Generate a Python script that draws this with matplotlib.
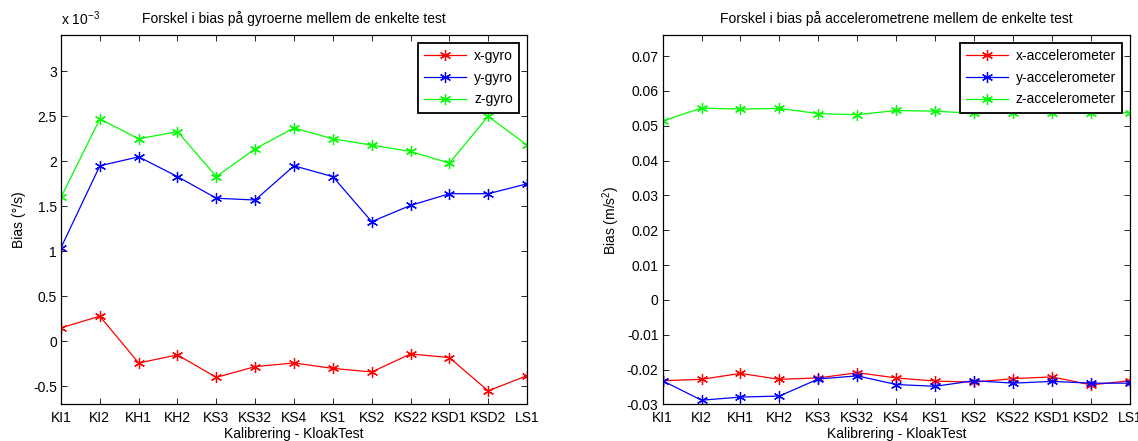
import matplotlib
matplotlib.use("Agg")
import matplotlib.pyplot as plt
import numpy as np

plt.rcParams['font.family'] = ['Liberation Sans', 'DejaVu Sans']
plt.rcParams['axes.unicode_minus'] = False
plt.rcParams['mathtext.fontset'] = 'custom'
plt.rcParams['mathtext.rm'] = 'Liberation Sans'
plt.rcParams['mathtext.it'] = 'Liberation Sans'

tests = ['KI1', 'KI2', 'KH1', 'KH2', 'KS3', 'KS32', 'KS4', 'KS1', 'KS2',
         'KS22', 'KSD1', 'KSD2', 'LS1']

# gyro bias in units of 1e-3 deg/s
gyro_x = [0.15, 0.28, -0.24, -0.15, -0.40, -0.28, -0.24, -0.30, -0.34,
          -0.14, -0.18, -0.55, -0.38]
gyro_y = [1.04, 1.95, 2.05, 1.83, 1.59, 1.57, 1.95, 1.83, 1.33,
          1.51, 1.64, 1.64, 1.75]
gyro_z = [1.60, 2.47, 2.25, 2.33, 1.83, 2.14, 2.37, 2.25, 2.18,
          2.11, 1.98, 2.50, 2.18]

# accelerometer bias in m/s^2
acc_x = [-0.0232, -0.0228, -0.0211, -0.0228, -0.0224, -0.0209, -0.0224,
         -0.0233, -0.0236, -0.0226, -0.0221, -0.0244, -0.0232]
acc_y = [-0.0232, -0.0288, -0.0279, -0.0276, -0.0227, -0.0218, -0.0243,
         -0.0248, -0.0232, -0.0239, -0.0234, -0.0239, -0.0239]
acc_z = [0.0514, 0.0551, 0.0548, 0.0550, 0.0535, 0.0532, 0.0544,
         0.0542, 0.0536, 0.0538, 0.0538, 0.0536, 0.0538]

colors = ['#ff0000', '#0000ff', '#00ff00']
fs = 10
star = (6, 2, 0)  # asterisk marker

fig = plt.figure(figsize=(11.38, 4.41), dpi=100)
ax1 = fig.add_axes([0.0536, 0.083, 0.4095, 0.837])
ax2 = fig.add_axes([0.5822, 0.083, 0.4108, 0.837])

x = np.arange(len(tests))


def style(ax):
    ax.set_xlim(0, len(tests) - 1)
    ax.set_xticks(x)
    ax.set_xticklabels(tests, fontsize=fs)
    ax.tick_params(direction='in', top=True, right=True, length=4,
                   width=0.6, labelsize=fs, pad=3)
    ax.tick_params(axis='x', pad=5)
    for s in ax.spines.values():
        s.set_linewidth(0.9)
    ax.set_xlabel('Kalibrering - KloakTest', fontsize=fs, labelpad=1)


def legend(ax):
    leg = ax.legend(loc='upper right', fontsize=fs, fancybox=False, edgecolor='black',
                    framealpha=1, handlelength=3.0, borderaxespad=0.55,
                    labelspacing=0.55, borderpad=0.45, handletextpad=0.6)
    leg.get_frame().set_linewidth(1.3)


for ys, lab, c in zip([gyro_x, gyro_y, gyro_z], ['x-gyro', 'y-gyro', 'z-gyro'], colors):
    ax1.plot(x, ys, color=c, marker=star, markersize=8, markeredgewidth=0.9,
             linewidth=0.9, label=lab)
style(ax1)
ax1.set_ylim(-0.7, 3.4)
ax1.set_yticks([-0.5, 0, 0.5, 1, 1.5, 2, 2.5, 3])
ax1.set_yticklabels(['-0.5', '0', '0.5', '1', '1.5', '2', '2.5', '3'])
ax1.set_ylabel('Bias (°/s)', fontsize=fs, labelpad=5)
ax1.set_title('Forskel i bias på gyroerne mellem de enkelte test', fontsize=fs, pad=9)
ax1.text(0.0, 1.02, r'x 10$^{-3}$', transform=ax1.transAxes, fontsize=fs,
         ha='left', va='bottom')
legend(ax1)

for ys, lab, c in zip([acc_x, acc_y, acc_z],
                      ['x-accelerometer', 'y-accelerometer', 'z-accelerometer'], colors):
    ax2.plot(x, ys, color=c, marker=star, markersize=8, markeredgewidth=0.9,
             linewidth=0.9, label=lab)
style(ax2)
ax2.set_ylim(-0.03, 0.076)
ax2.set_yticks(np.arange(-0.03, 0.071, 0.01))
ax2.set_yticklabels(['-0.03', '-0.02', '-0.01', '0', '0.01', '0.02', '0.03',
                     '0.04', '0.05', '0.06', '0.07'])
ax2.set_ylabel('Bias (m/s$^2$)', fontsize=fs, labelpad=3)
ax2.set_title('Forskel i bias på accelerometrene mellem de enkelte test', fontsize=fs, pad=9)
legend(ax2)

fig.savefig('out.png', dpi=100)
